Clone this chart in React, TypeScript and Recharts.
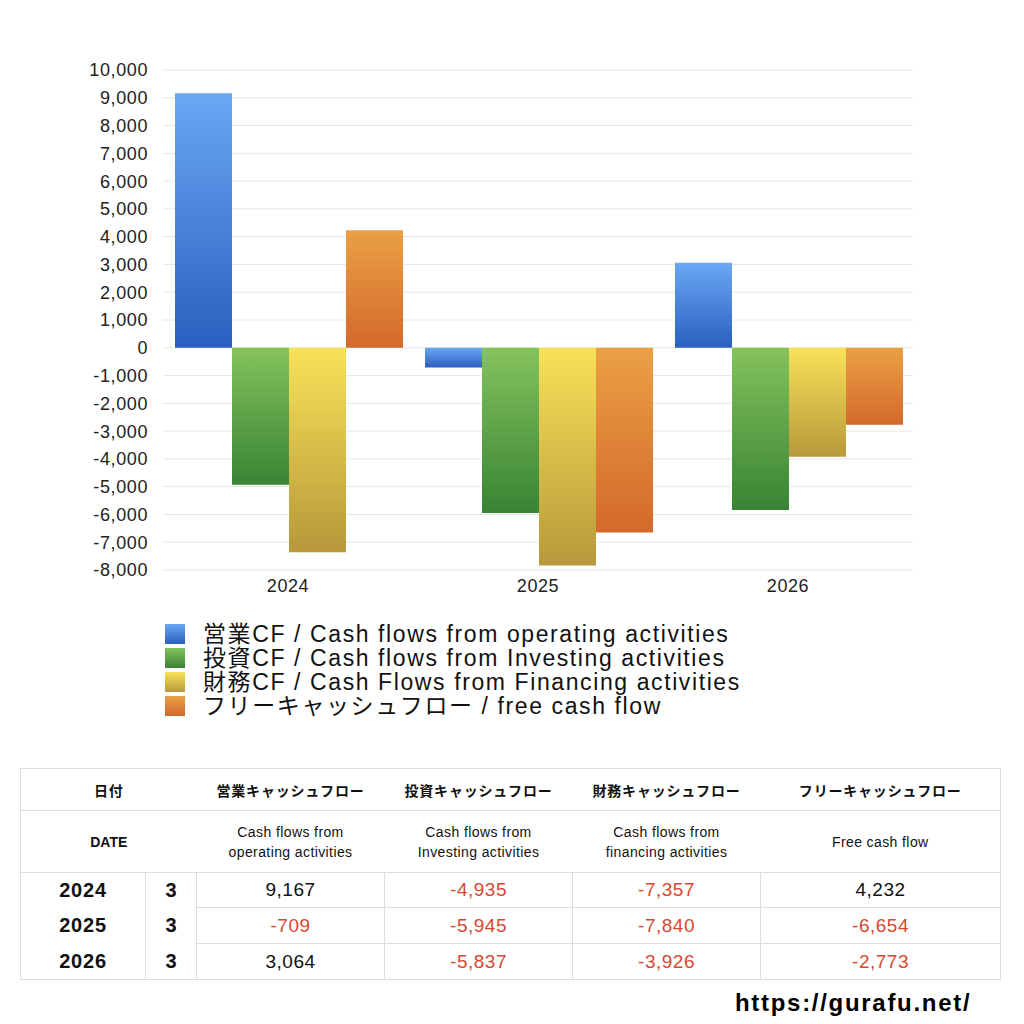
import React from "react";
import { BarChart, Bar, XAxis, YAxis, CartesianGrid } from "recharts";

const years = ["2024", "2025", "2026"];
const months = ["3", "3", "3"];
const operating = [9167, -709, 3064];
const investing = [-4935, -5945, -5837];
const financing = [-7357, -7840, -3926];
const freeCash = [4232, -6654, -2773];
const yTicks = [-8000, -7000, -6000, -5000, -4000, -3000, -2000, -1000, 0, 1000, 2000, 3000, 4000, 5000, 6000, 7000, 8000, 9000, 10000];

const seriesNames = [
  "営業CF / Cash flows from operating activities",
  "投資CF / Cash flows from Investing activities",
  "財務CF / Cash Flows from Financing activities",
  "フリーキャッシュフロー / free cash flow",
];
const headerJa = ["営業キャッシュフロー", "投資キャッシュフロー", "財務キャッシュフロー", "フリーキャッシュフロー"];
const headerEn = [
  ["Cash flows from", "operating activities"],
  ["Cash flows from", "Investing activities"],
  ["Cash flows from", "financing activities"],
  ["Free cash flow"],
];

const gradients = [
  { id: "gOp", top: "#6aa8f4", bottom: "#2a5fbf" },
  { id: "gInv", top: "#84c25c", bottom: "#388434" },
  { id: "gFin", top: "#f7e258", bottom: "#b8983a" },
  { id: "gFree", top: "#eaa044", bottom: "#d4692b" },
];

const data = years.map((y, i) => ({
  year: y,
  op: operating[i],
  inv: investing[i],
  fin: financing[i],
  free: freeCash[i],
}));
const keys = ["op", "inv", "fin", "free"];
const cols = [operating, investing, financing, freeCash];

const FONT = '"Liberation Sans", "Noto Sans CJK JP", sans-serif';
const fmt = (v: number) => v.toLocaleString("en-US");

export default function App() {
  const border = "1px solid #dedede";
  const colW = [125, 51, 188, 188, 188, 240];
  return (
    <div style={{ position: "absolute", left: 0, top: 0, width: 1024, height: 1024, background: "#fff", fontFamily: FONT }}>
      <BarChart
        width={1024}
        height={600}
        data={data}
        margin={{ top: 70, right: 111, left: 0, bottom: 0 }}
        barCategoryGap="4.8%"
        barGap={0}
      >
        <defs>
          {gradients.map((g) => (
            <linearGradient key={g.id} id={g.id} x1="0" y1="0" x2="0" y2="1">
              <stop offset="0%" stopColor={g.top} />
              <stop offset="100%" stopColor={g.bottom} />
            </linearGradient>
          ))}
        </defs>
        <CartesianGrid vertical={false} stroke="#e6e6e6" />
        <XAxis
          dataKey="year"
          axisLine={false}
          tickLine={false}
          tickSize={0}
          tickMargin={9}
          height={30}
          tick={{ fontSize: 18, fill: "#222", fontFamily: FONT, letterSpacing: 0.6 }}
        />
        <YAxis
          domain={[-8000, 10000]}
          ticks={yTicks}
          interval={0}
          axisLine={false}
          tickLine={false}
          tickSize={0}
          tickMargin={15}
          width={163}
          tickFormatter={fmt}
          tick={{ fontSize: 18, fill: "#222", fontFamily: FONT, letterSpacing: 0.6 }}
        />
        {keys.map((k, i) => (
          <Bar key={k} dataKey={k} fill={`url(#${gradients[i].id})`} isAnimationActive={false} />
        ))}
      </BarChart>

      <div style={{ position: "absolute", left: 165, top: 622 }}>
        {seriesNames.map((n, i) => (
          <div key={n} style={{ display: "flex", alignItems: "center", height: 24 }}>
            <div
              style={{
                width: 20,
                height: 20,
                background: `linear-gradient(${gradients[i].top}, ${gradients[i].bottom})`,
                marginRight: 18,
              }}
            />
            <span style={{ fontSize: 23, color: "#111", whiteSpace: "nowrap", lineHeight: "24px", letterSpacing: 1.6 }}>{n}</span>
          </div>
        ))}
      </div>

      <table
        style={{
          position: "absolute",
          left: 20,
          top: 768,
          width: 980,
          borderCollapse: "collapse",
          fontFamily: FONT,
          color: "#111",
          tableLayout: "fixed",
        }}
      >
        <colgroup>
          {colW.map((w, i) => (
            <col key={i} style={{ width: w }} />
          ))}
        </colgroup>
        <tbody>
          <tr style={{ height: 42 }}>
            <td colSpan={2} style={{ border, borderRight: "none", textAlign: "center", fontSize: 14, fontWeight: 700, letterSpacing: 0.8 }}>日付</td>
            {headerJa.map((h, i) => (
              <td key={h} style={{ border, borderLeft: "none", borderRight: i === 3 ? border : "none", textAlign: "center", fontSize: 14, fontWeight: 700, letterSpacing: 0.8 }}>{h}</td>
            ))}
          </tr>
          <tr style={{ height: 62 }}>
            <td colSpan={2} style={{ border, borderRight: "none", textAlign: "center", fontSize: 14, fontWeight: 700 }}>DATE</td>
            {headerEn.map((h, i) => (
              <td key={i} style={{ border, borderLeft: "none", borderRight: i === 3 ? border : "none", textAlign: "center", fontSize: 14, lineHeight: "20px", letterSpacing: 0.4 }}>
                {h.map((l) => (
                  <div key={l}>{l}</div>
                ))}
              </td>
            ))}
          </tr>
          {years.map((y, r) => (
            <tr key={y} style={{ height: r === 0 ? 35 : 36 }}>
              <td style={{ borderLeft: border, borderBottom: r === 2 ? border : "none", textAlign: "center", fontSize: 20, fontWeight: 700, letterSpacing: 0.8 }}>{y}</td>
              <td style={{ borderLeft: border, borderBottom: r === 2 ? border : "none", textAlign: "center", fontSize: 20, fontWeight: 700 }}>{months[r]}</td>
              {cols.map((c, j) => (
                <td
                  key={j}
                  style={{
                    border,
                    textAlign: "center",
                    fontSize: 19,
                    letterSpacing: 0.5,
                    color: c[r] < 0 ? "#d9472f" : "#111",
                  }}
                >
                  {fmt(c[r])}
                </td>
              ))}
            </tr>
          ))}
        </tbody>
      </table>

      <div style={{ position: "absolute", left: 735, top: 989, fontSize: 24, fontWeight: 700, color: "#000", letterSpacing: 1.7 }}>
        https://gurafu.net/
      </div>
    </div>
  );
}
